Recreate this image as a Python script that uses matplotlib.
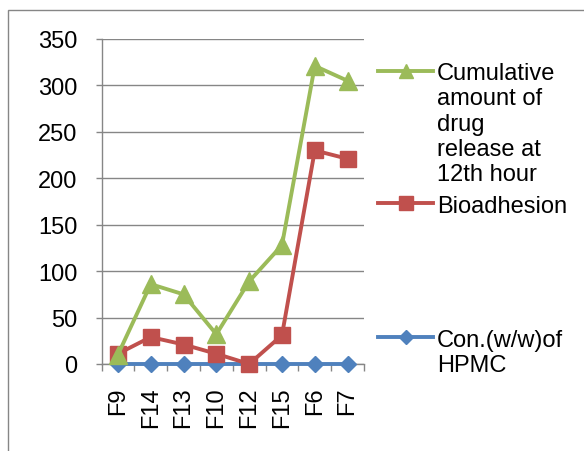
import matplotlib.pyplot as plt
from matplotlib.lines import Line2D
from matplotlib.patches import Rectangle
import numpy as np

plt.rcParams['font.family'] = ['Liberation Sans', 'DejaVu Sans']

formulations = ['F9', 'F14', 'F13', 'F10', 'F12', 'F15', 'F6', 'F7']
hpmc_conc = [0.5, 0.5, 0.5, 0.5, 0.5, 0.5, 0.5, 0.5]
bioadhesion = [11, 29, 21, 11, 0, 31, 230, 221]
cumulative_release = [10, 86, 75, 32, 89, 128, 321, 305]

series = [
    ('Con.(w/w)of\nHPMC', hpmc_conc, '#4F81BD', 'D', 8.5),
    ('Bioadhesion', bioadhesion, '#C0504D', 's', 12),
    ('Cumulative\namount of\ndrug\nrelease at\n12th hour', cumulative_release, '#9BBB59', '^', 12.5),
]

W, H = 584, 452
fig = plt.figure(figsize=(W / 100, H / 100), dpi=100)

# outer chart border (Excel style)
fig.add_artist(Rectangle((8 / W, -0.1), 1.2, 1.1 - 11 / H, transform=fig.transFigure,
                         fill=False, edgecolor='#868686', linewidth=1))

ax = fig.add_axes([101.5 / W, 1 - 365 / H, (364 - 101.5) / W, (365 - 40) / H])
x = np.arange(len(formulations))

for label, vals, color, marker, ms in series:
    ax.plot(x, vals, color=color, linewidth=2.8, marker=marker, markersize=ms,
            markeredgecolor=color, zorder=3, clip_on=False)

ax.set_xlim(-0.5, len(formulations) - 0.5)
ax.set_ylim(0, 350)
ax.set_yticks(range(0, 351, 50))
ax.yaxis.grid(True, color='#868686', linewidth=1)
ax.set_axisbelow(True)

ax.set_xticks(x)
ax.set_xticklabels(formulations, rotation=90, fontsize=17)
ax.set_xticks(np.arange(-0.5, len(formulations)), minor=True)
ax.tick_params(axis='x', which='major', length=0, pad=16)
ax.tick_params(axis='x', which='minor', length=5, color='#868686', width=1, direction='out')
ax.tick_params(axis='y', labelsize=17, length=4.5, color='#868686', width=1, pad=13)

for side in ['top', 'right']:
    ax.spines[side].set_visible(False)
for side in ['left', 'bottom']:
    ax.spines[side].set_color('#868686')
    ax.spines[side].set_linewidth(1)

# legend drawn to match Excel's spread-out layout
legend_rows = {'#9BBB59': (72.3, 80), '#C0504D': (204.3, 213), '#4F81BD': (337.7, 347)}
for label, vals, color, marker, ms in series:
    ly, base = legend_rows[color]
    fig.add_artist(Line2D([378 / W, 433 / W], [1 - ly / H, 1 - ly / H], transform=fig.transFigure,
                          color=color, linewidth=2.8))
    fig.add_artist(Line2D([405.5 / W], [1 - ly / H], transform=fig.transFigure, color=color,
                          marker=marker, markersize=ms * 0.85, markeredgecolor=color))
    fig.text(437 / W, 1 - (base - 17.2) / H, label, fontsize=17, va='top', ha='left')

fig.savefig('out.png', dpi=100)
